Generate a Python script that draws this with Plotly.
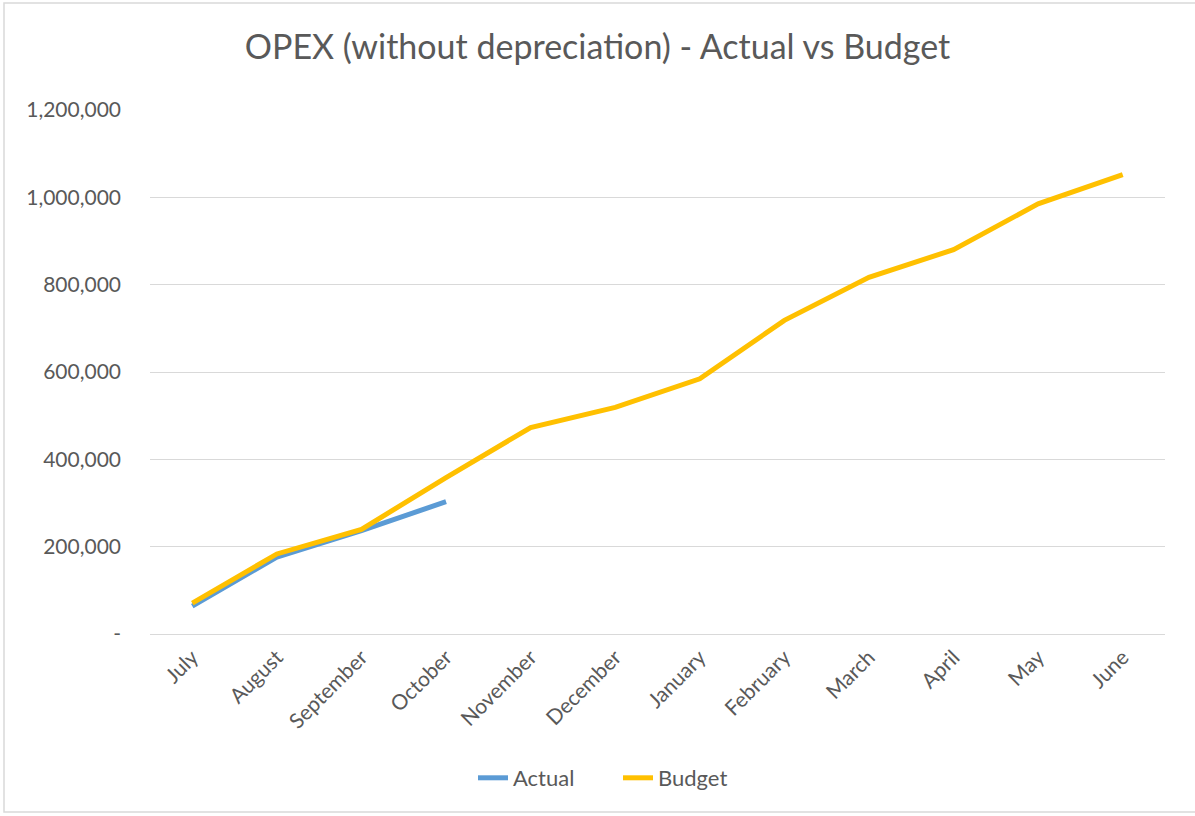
import plotly.graph_objects as go

months = ["July", "August", "September", "October", "November", "December",
          "January", "February", "March", "April", "May", "June"]
actual = [64000, 176000, 237000, 303000]
budget = [70800, 183300, 239700, 358000, 472900, 518800, 584500, 718200,
          816800, 880200, 985000, 1052000]
y_tickvals = [0, 200000, 400000, 600000, 800000, 1000000, 1200000]
y_ticktext = ["-", "200,000", "400,000", "600,000", "800,000", "1,000,000", "1,200,000"]

FONT = "Lato, 'Open Sans', sans-serif"
GRAY = "#595959"

L, R, T, B = 150, 1165, 110, 634
W, H = 1195, 816
PH = B - T
PW = R - L

fig = go.Figure()
fig.add_trace(go.Scatter(x=months[:len(actual)], y=actual, name="Actual", mode="lines",
                         line=dict(color="#5B9BD5", width=5)))
fig.add_trace(go.Scatter(x=months, y=budget, name="Budget", mode="lines",
                         line=dict(color="#FFC000", width=5)))

fig.update_layout(
    width=W, height=H,
    margin=dict(l=L, r=W - R, t=T, b=H - B, autoexpand=False),
    paper_bgcolor="white", plot_bgcolor="white",
    font=dict(family=FONT, color=GRAY, size=21),
    title=dict(text="OPEX (without depreciation) - Actual vs Budget",
               x=0.5, xanchor="center", y=1 - 47 / H, yanchor="middle",
               font=dict(family=FONT, size=34, color=GRAY)),
    xaxis=dict(type="category", categoryorder="array", categoryarray=months,
               tickangle=-45, showgrid=False, showline=False, zeroline=False,
               ticks="", tickfont=dict(size=21, color=GRAY), range=[-0.5, 11.5],
               ticklabelstandoff=6),
    yaxis=dict(range=[0, 1200000], tickvals=y_tickvals, ticktext=y_ticktext,
               showgrid=True, gridcolor="#D9D9D9", gridwidth=1.3, zeroline=True,
               zerolinecolor="#D9D9D9", zerolinewidth=1.3, showline=False,
               ticks="", tickfont=dict(size=21, color=GRAY), ticklabelstandoff=28),
    legend=dict(orientation="h", x=(618 - L) / PW, xanchor="center",
                y=-(778 - B) / PH, yanchor="middle", font=dict(size=22, color=GRAY),
                entrywidth=100, entrywidthmode="pixels"),
    shapes=[dict(type="rect", xref="paper", yref="paper",
                 x0=(4 - L) / PW, x1=(1200 - L) / PW,
                 y0=-(812 - B) / PH, y1=1 + (T - 3) / PH,
                 line=dict(color="#D9D9D9", width=1.5), fillcolor="rgba(0,0,0,0)",
                 layer="below")],
)

fig.write_html("out.html", config={"displayModeBar": False},
               post_script="document.body.style.margin='0px';document.body.style.padding='0px';")
